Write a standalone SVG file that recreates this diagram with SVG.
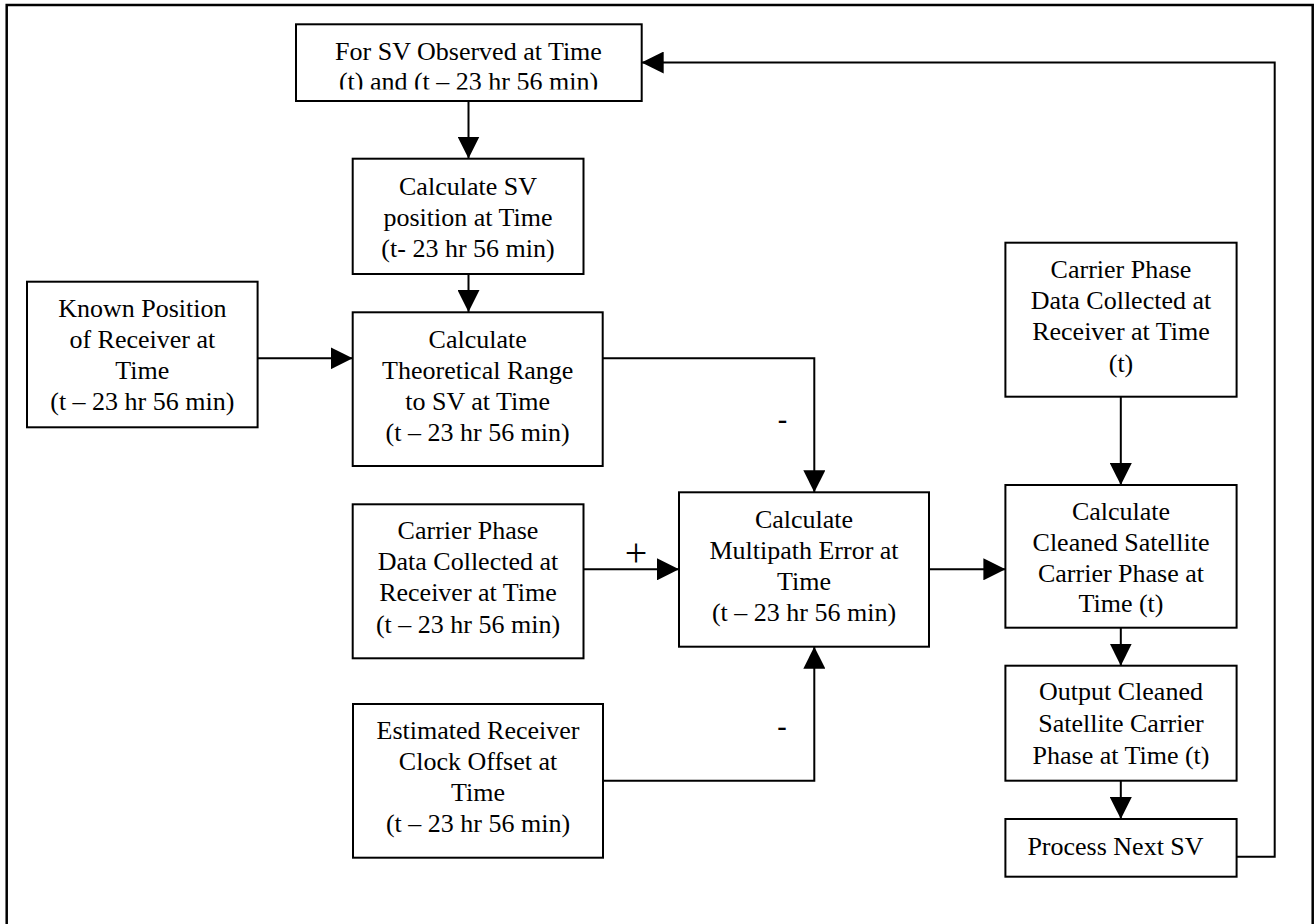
<svg xmlns="http://www.w3.org/2000/svg" width="1315" height="924" viewBox="0 0 1315 924">
<defs>
<marker id="ah" markerUnits="userSpaceOnUse" markerWidth="22" markerHeight="22" viewBox="0 0 20 20" refX="20" refY="10" orient="auto">
<path d="M0,0 L20,10 L0,20 z" fill="#000"/>
</marker>
<clipPath id="clip1"><rect x="297" y="25" width="344" height="64.5"/></clipPath>
</defs>
<style>
.box{fill:#fff;stroke:#000;stroke-width:2}
.frame{fill:none;stroke:#000;stroke-width:2.5}
.t{font-family:"Liberation Serif","Times New Roman",serif;font-size:26px;fill:#000;text-anchor:middle}
.c{fill:none;stroke:#000;stroke-width:2}
.sign{font-family:"Liberation Sans",Arial,sans-serif;font-size:30px;fill:#000;text-anchor:middle}
.plus{font-family:"Liberation Serif","Times New Roman",serif;font-size:40px;fill:#000;text-anchor:middle}
</style>
<rect width="1315" height="924" fill="#fff"/>
<rect class="frame" x="6.7" y="5" width="1306" height="940"/>

<g id="connectors">
<path class="c" d="M468.5,101 V158.5" marker-end="url(#ah)"/>
<path class="c" d="M468.5,274 V312" marker-end="url(#ah)"/>
<path class="c" d="M257.6,358.3 H352.7" marker-end="url(#ah)"/>
<path class="c" d="M602.7,358.3 H814.3 V492.3" marker-end="url(#ah)"/>
<path class="c" d="M583.5,569.3 H679" marker-end="url(#ah)"/>
<path class="c" d="M603,780.7 H814.3 V646.7" marker-end="url(#ah)"/>
<path class="c" d="M929,569.3 H1005.4" marker-end="url(#ah)"/>
<path class="c" d="M1120.8,396.7 V485" marker-end="url(#ah)"/>
<path class="c" d="M1120.8,627.7 V665.7" marker-end="url(#ah)"/>
<path class="c" d="M1120.8,780.7 V819" marker-end="url(#ah)"/>
<path class="c" d="M1236.6,856.7 H1274.7 V62.5 H641.7" marker-end="url(#ah)"/>
<text class="sign" x="782.5" y="430">-</text>
<text class="sign" x="782" y="737">-</text>
<text class="plus" x="636" y="566">+</text>
</g>

<g id="n1">
<rect class="box" x="296" y="24.3" width="345.7" height="76.7"/>
<g clip-path="url(#clip1)">
<text class="t" x="468.5" y="60">For SV Observed at Time</text>
<text class="t" x="468.5" y="89.5">(t) and (t – 23 hr 56 min)</text>
</g>
</g>

<g id="n2">
<rect class="box" x="352.7" y="158.7" width="230.8" height="115.3"/>
<text class="t" x="468" y="194.5">Calculate SV</text>
<text class="t" x="468" y="225.5">position at Time</text>
<text class="t" x="468" y="257">(t- 23 hr 56 min)</text>
</g>

<g id="n3">
<rect class="box" x="27" y="281.7" width="230.6" height="145.6"/>
<text class="t" x="142.3" y="316.5">Known Position</text>
<text class="t" x="142.3" y="347.5">of Receiver at</text>
<text class="t" x="142.3" y="378.5">Time</text>
<text class="t" x="142.3" y="410">(t – 23 hr 56 min)</text>
</g>

<g id="n4">
<rect class="box" x="352.7" y="312.3" width="250" height="153.7"/>
<text class="t" x="477.7" y="348">Calculate</text>
<text class="t" x="477.7" y="378.5">Theoretical Range</text>
<text class="t" x="477.7" y="409.5">to SV at Time</text>
<text class="t" x="477.7" y="440.5">(t – 23 hr 56 min)</text>
</g>

<g id="n5">
<rect class="box" x="352.7" y="504.3" width="230.8" height="154"/>
<text class="t" x="468" y="539">Carrier Phase</text>
<text class="t" x="468" y="570">Data Collected at</text>
<text class="t" x="468" y="601">Receiver at Time</text>
<text class="t" x="468" y="632.5">(t – 23 hr 56 min)</text>
</g>

<g id="n6">
<rect class="box" x="679" y="492.3" width="250" height="154.4"/>
<text class="t" x="804" y="528">Calculate</text>
<text class="t" x="804" y="558.5">Multipath Error at</text>
<text class="t" x="804" y="589.5">Time</text>
<text class="t" x="804" y="620.5">(t – 23 hr 56 min)</text>
</g>

<g id="n7">
<rect class="box" x="353" y="704" width="250" height="153.7"/>
<text class="t" x="478" y="739">Estimated Receiver</text>
<text class="t" x="478" y="770">Clock Offset at</text>
<text class="t" x="478" y="800.5">Time</text>
<text class="t" x="478" y="832">(t – 23 hr 56 min)</text>
</g>

<g id="n8">
<rect class="box" x="1005.4" y="242.7" width="231.2" height="154"/>
<text class="t" x="1121" y="278">Carrier Phase</text>
<text class="t" x="1121" y="309">Data Collected at</text>
<text class="t" x="1121" y="340">Receiver at Time</text>
<text class="t" x="1121" y="372">(t)</text>
</g>

<g id="n9">
<rect class="box" x="1005.4" y="485" width="231.2" height="142.7"/>
<text class="t" x="1121" y="520">Calculate</text>
<text class="t" x="1121" y="551">Cleaned Satellite</text>
<text class="t" x="1121" y="582">Carrier Phase at</text>
<text class="t" x="1121" y="612">Time (t)</text>
</g>

<g id="n10">
<rect class="box" x="1005.4" y="665.7" width="231.2" height="115"/>
<text class="t" x="1121" y="700">Output Cleaned</text>
<text class="t" x="1121" y="732">Satellite Carrier</text>
<text class="t" x="1121" y="763.5">Phase at Time (t)</text>
</g>

<g id="n11">
<rect class="box" x="1005.4" y="819" width="231.2" height="57.7"/>
<text class="t" x="1115.5" y="855">Process Next SV</text>
</g>
</svg>
